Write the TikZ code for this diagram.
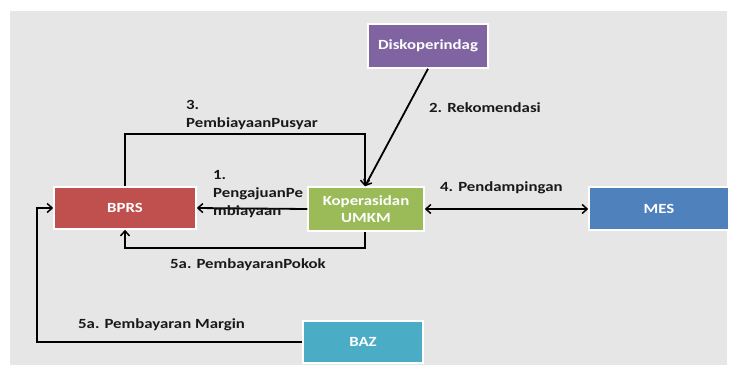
\documentclass[tikz,border=0pt]{standalone}
\usepackage{fontspec}
\setmainfont{Carlito}[FakeStretch=1.2]
\usetikzlibrary{arrows.meta,shadows}
\definecolor{bg}{HTML}{E6E6E6}
\definecolor{cred}{HTML}{C0504D}
\definecolor{cgreen}{HTML}{9BBB59}
\definecolor{cblue}{HTML}{4F81BD}
\definecolor{cteal}{HTML}{4BACC6}
\definecolor{cpurple}{HTML}{8064A2}
\tikzset{
  box/.style={draw=white, line width=1.5pt, text=white, font=\bfseries\fontsize{14}{17}\selectfont,
    align=center, inner sep=0pt, drop shadow={shadow xshift=1pt, shadow yshift=-1.2pt, opacity=0.35, fill=black}},
  arr/.style={line width=1.8pt, -{Straight Barb[length=5pt,width=9pt,line width=1.5pt]}},
  arrtwo/.style={line width=1.8pt, {Straight Barb[length=5pt,width=9pt,line width=1.5pt]}-{Straight Barb[length=5pt,width=9pt,line width=1.5pt]}},
  lbl/.style={font=\bfseries\fontsize{14}{18}\selectfont, align=left, inner sep=0pt, anchor=west, text=black!90}
}
\begin{document}
\begin{tikzpicture}[x=1pt,y=-1pt]
\useasboundingbox (0,0) rectangle (730,365);
\fill[white] (0,0) rectangle (730,365);
\fill[bg] (10,11) rectangle (727,365);
% nodes
\node[box, fill=cpurple, minimum width=120pt, minimum height=44pt] (disk) at (428,46) {Diskoperindag};
\node[box, fill=cred, minimum width=142pt, minimum height=42pt] (bprs) at (125,208) {BPRS};
\node[box, fill=cgreen, minimum width=116pt, minimum height=44pt] (kop) at (366,209) {Koperasidan\\UMKM};
\node[box, fill=cblue, minimum width=140pt, minimum height=43pt] (mes) at (659,208.5) {MES};
\node[box, fill=cteal, minimum width=120pt, minimum height=42pt] (baz) at (363,342) {BAZ};
% coordinates
\coordinate (c3) at (365,134);
\coordinate (c5) at (125,248);
\coordinate (c6) at (37,300);
% connectors
\draw[arr] (bprs.north) |- (c3) -- (kop.north -| c3);
\draw[arr] (disk.south) -- (kop.north -| c3);
\draw[arr] (kop.west) -- (bprs.west -| bprs.east);
\draw[arr] (kop.south -| c3) |- (c5) -- (bprs.south);
\draw[arrtwo] (kop.east) -- (mes.west |- kop.east);
\draw[arr] (baz.west) -| (c6) |- (bprs.west);
% labels
\node[lbl] (l3) at (186,115) {3.\\PembiayaanPusyar};
\node[lbl] (l2) at (429,108) {2. Rekomendasi};
\node[lbl] (l1) at (213,194) {1.\\PengajuanPe\\mbiayaan};
\node[lbl] (l4) at (440,188) {4. Pendampingan};
\node[lbl] (l5) at (170,265) {5a. PembayaranPokok};
\node[lbl] (l6) at (78,325) {5a. Pembayaran Margin};
\end{tikzpicture}
\end{document}
